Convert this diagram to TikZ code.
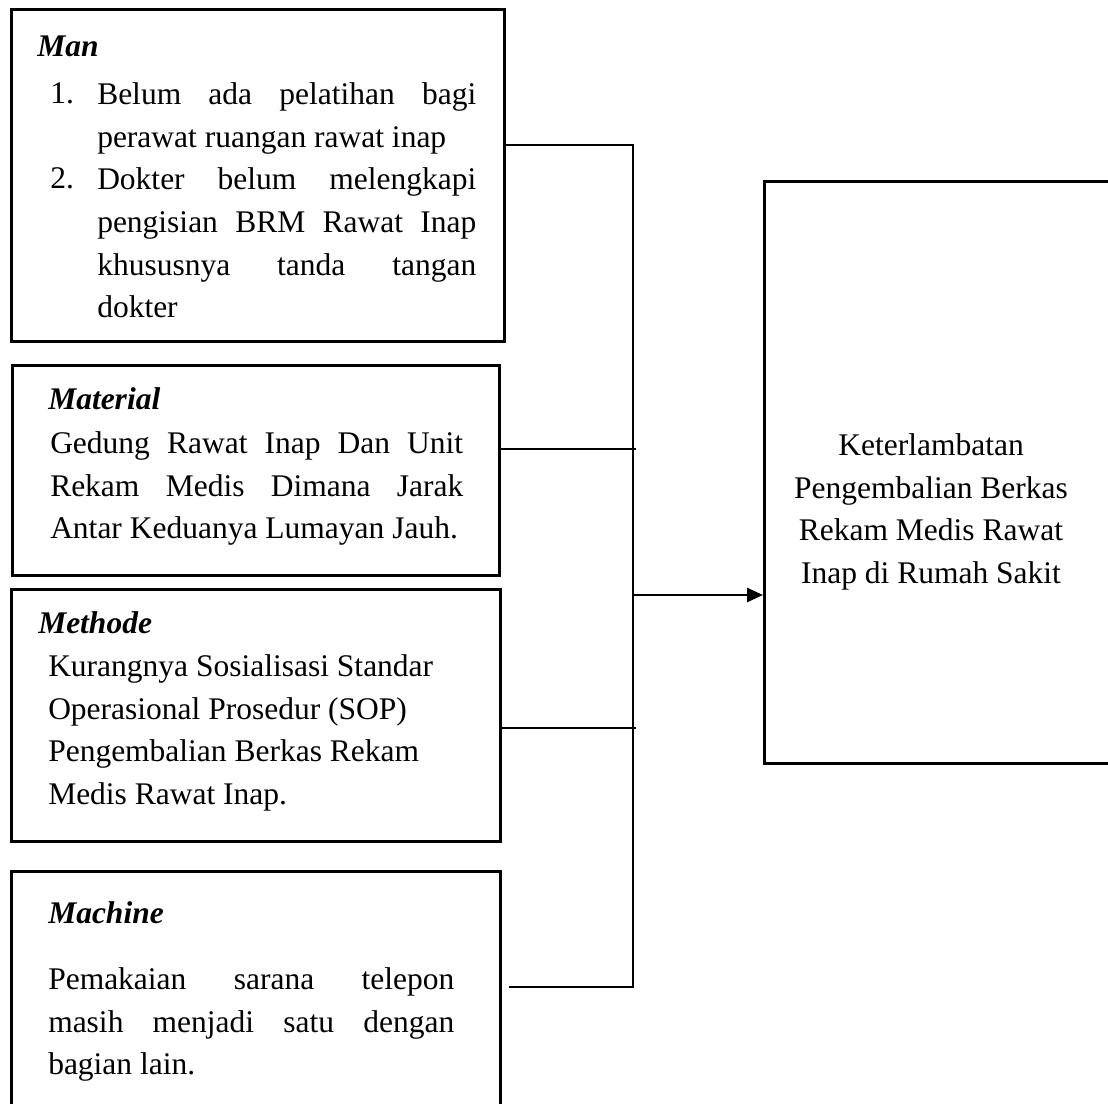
\documentclass[tikz,border=0pt]{standalone}
\usepackage{fontspec}
\setmainfont{Liberation Serif}
\usetikzlibrary{arrows.meta}
\begin{document}
\begin{tikzpicture}[x=1pt,y=-1pt,line width=2.5pt,
  box/.style={draw,line width=2.5pt,inner sep=0pt,anchor=north west},
  txt/.style={inner sep=0pt,anchor=north west,font=\fontsize{31.5}{42.7}\selectfont},
  head/.style={inner sep=0pt,anchor=base west,font=\fontsize{31.5}{42.7}\selectfont\bfseries\itshape},
  num/.style={inner sep=0pt,anchor=base west,font=\fontsize{31.5}{42.7}\selectfont},
  conn/.style={line width=2.5pt},
  arr/.style={line width=2.5pt,-{Triangle[length=16pt,width=14pt]}}]
\useasboundingbox (0,0) rectangle (1108,1103);
% boxes
\node[box,minimum width=493pt,minimum height=332pt] (man) at (10,8) {};
\node[box,minimum width=487pt,minimum height=210pt] (mat) at (11,364) {};
\node[box,minimum width=489pt,minimum height=252pt] (met) at (10,588) {};
\node[box,minimum width=489pt,minimum height=260pt] (mac) at (10,870) {};
\node[box,minimum width=360pt,minimum height=582pt] (res) at (763,180) {};
% Man
\node[head] (manh) at (36,56) {Man};
\node[num] (n1) at (49,103) {1.};
\node[txt,text width=379pt,align=justify] (i1) at (96,73.18) {\strut Belum ada pelatihan bagi\linebreak perawat ruangan rawat inap};
\node[num] (n2) at (49,188.4) {2.};
\node[txt,text width=379pt,align=justify] (i2) at (96,158.58) {\strut Dokter belum melengkapi\linebreak pengisian BRM Rawat Inap\linebreak khususnya tanda tangan\linebreak dokter};
% Material
\node[head] (math) at (47,409) {Material};
\node[txt,text width=413pt,align=justify] (matt) at (49,422.18) {\strut Gedung Rawat Inap Dan Unit\linebreak Rekam Medis Dimana Jarak\linebreak Antar Keduanya Lumayan Jauh.};
% Methode
\node[head] (meth) at (37,633) {Methode};
\node[txt,align=left] (mett) at (47,645.18) {\strut Kurangnya Sosialisasi Standar\\Operasional Prosedur (SOP)\\Pengembalian Berkas Rekam\\Medis Rawat Inap.};
% Machine
\node[head] (mach) at (47,923) {Machine};
\node[txt,text width=406pt,align=justify] (mact) at (47,958.18) {\strut Pemakaian sarana telepon\linebreak masih menjadi satu dengan\linebreak bagian lain.};
% Result
\node[txt,anchor=north,align=center] (rest) at (931,424.18) {\strut Keterlambatan\\Pengembalian Berkas\\Rekam Medis Rawat\\Inap di Rumah Sakit};
% connectors
\coordinate (jm) at (633,145);
\coordinate (ja) at (633,449);
\coordinate (jt) at (633,728);
\coordinate (jr) at (633,595);
\coordinate (jc) at (633,987);
\draw[conn] (man.east |- jm) -- (jm) -- (jc) -- ([xshift=7pt]mac.east |- jc);
\draw[conn] (mat.east |- ja) -- ([xshift=2.5pt]ja);
\draw[conn] (met.east |- jt) -- ([xshift=2.5pt]jt);
\draw[arr] (jr) -- (res.west |- jr);
\end{tikzpicture}
\end{document}
